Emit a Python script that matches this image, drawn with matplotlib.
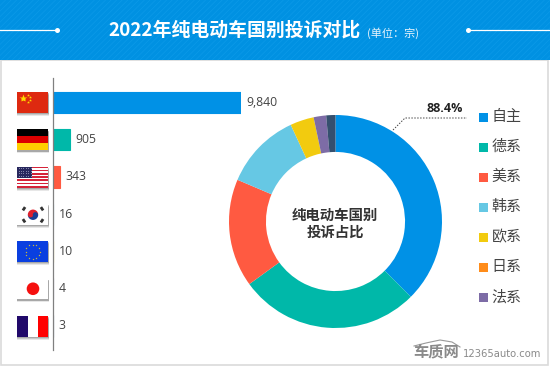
import numpy as np
import matplotlib
matplotlib.use("Agg")
import matplotlib.pyplot as plt
from matplotlib.patches import Rectangle, Circle, Wedge

plt.rcParams['font.family'] = ['Noto Sans CJK SC', 'DejaVu Sans']
plt.rcParams['hatch.linewidth'] = 0.5

# bar data
countries = ['中国', '德国', '美国', '韩国', '欧盟', '日本', '法国']
complaints = [9840, 905, 343, 16, 10, 4, 3]
complaint_labels = ['9,840', '905', '343', '16', '10', '4', '3']
bar_colors = ['#0091E6', '#00B8A9', '#FF5A41', '#66C8E4', '#F2CB0F', '#7D6CA6', '#35506E']

# donut data (shares as drawn, they do not follow the bars)
share_names = ['自主', '德系', '美系', '韩系', '欧系', '法系', '其他']
shares = [37.5, 27.5, 16.4, 11.7, 3.6, 1.9, 1.4]
share_colors = ['#0091E6', '#00B8A9', '#FF5A41', '#66C8E4', '#F2CB0F', '#7D6CA6', '#35506E']

# legend
legend_names = ['自主', '德系', '美系', '韩系', '欧系', '日系', '法系']
legend_colors = ['#0091E6', '#00B8A9', '#FF5A41', '#66C8E4', '#F2CB0F', '#FF8C1A', '#7D6CA6']

W, H = 550, 368
fig = plt.figure(figsize=(W / 100, H / 100), dpi=100, facecolor='white')


def px_axes(x0, y0, x1, y1, **kw):
    # axes placed with pixel coordinates, y going down
    return fig.add_axes([x0 / W, 1 - y1 / H, (x1 - x0) / W, (y1 - y0) / H], **kw)


# background layer in pixels
bg = px_axes(0, 0, W, H)
bg.set_xlim(0, W)
bg.set_ylim(H, 0)
bg.axis('off')

bg.add_patch(Rectangle((0.5, 60), 547, 305, fc='white', ec='#DADADA', lw=1.2))
bg.add_patch(Rectangle((0, 0), W, 60, fc='#0091E2', ec='#0C9AE8', lw=0, hatch='//////'))

# header
bg.plot([0, 57], [30, 30], color='white', lw=0.9)
bg.plot([468, 550], [30, 30], color='white', lw=0.9)
bg.plot([57, 468], [30, 30], ls='none', marker='o', ms=3.6, color='white', mec='none')
bg.text(108, 30, '2022年纯电动车国别投诉对比', color='white', fontsize=13.6, fontweight='bold',
        ha='left', va='center')
bg.text(367, 33, '(单位：宗)', color='#E8F4FC', fontsize=8, ha='left', va='center')

# bars
bar_top, bar_step = 102.5, 37.25
ax = px_axes(53, 78, 241, 350)
ax.patch.set_alpha(0)
ypos = np.arange(len(complaints))
ax.barh(ypos, complaints, height=0.564, color=bar_colors, edgecolor=bar_colors, lw=0.8)
ax.set_xlim(0, max(complaints))
ax.set_ylim((350 - bar_top) / bar_step, (78 - bar_top) / bar_step)
ax.set_xticks([])
ax.set_yticks([])
for side in ['top', 'right', 'bottom']:
    ax.spines[side].set_visible(False)
ax.spines['left'].set_color('#808080')
ax.spines['left'].set_linewidth(0.9)
for y, v, lab in zip(ypos, complaints, complaint_labels):
    ax.annotate(lab, (v, y), xytext=(4, 0), textcoords='offset points', va='center', ha='left',
                fontsize=8.8, color='#444444', family='Open Sans', annotation_clip=False)


# flags
def flag_base(yc, color='white'):
    x, y, w, h = 17, yc - 10.5, 31, 21
    for d, a in [(3.0, 0.14), (2.2, 0.2), (1.4, 0.28)]:
        bg.add_patch(Rectangle((x - 0.5, y + d), w + 1, h, fc='#555555', ec='none', alpha=a))
    bg.add_patch(Rectangle((x, y), w, h, fc=color, ec='none'))
    return x, y, w, h


def flag_china(yc):
    x, y, w, h = flag_base(yc, '#DE2910')
    bg.plot(x + 6, y + 5.5, marker='*', ms=6, color='#FFDE00', mec='none')
    for dx, dy in [(11, 2.5), (13, 4.5), (13, 7.5), (11, 9.5)]:
        bg.plot(x + dx, y + dy, marker='*', ms=2.2, color='#FFDE00', mec='none')


def flag_germany(yc):
    x, y, w, h = flag_base(yc, '#000000')
    bg.add_patch(Rectangle((x, y + 7), w, 7, fc='#DD0000', ec='none'))
    bg.add_patch(Rectangle((x, y + 14), w, 7, fc='#FFCE00', ec='none'))


def flag_usa(yc):
    x, y, w, h = flag_base(yc, 'white')
    for i in range(0, 13, 2):
        bg.add_patch(Rectangle((x, y + i * h / 13), w, h / 13, fc='#D5233A', ec='none'))
    bg.add_patch(Rectangle((x, y), 15, 11.3, fc='#28285E', ec='none'))
    for i in range(6):
        for j in range(4):
            bg.plot(x + 1.5 + i * 2.4, y + 1.5 + j * 2.7, marker='.', ms=1.3, color='#B9B9D6', mec='none')


def flag_korea(yc):
    x, y, w, h = flag_base(yc, 'white')
    cx, cy = x + 16, y + 11
    bg.add_patch(Wedge((cx, cy), 5.2, 180, 360, fc='#E0202C', ec='none'))
    bg.add_patch(Wedge((cx, cy), 5.2, 0, 180, fc='#1A3F94', ec='none'))
    bg.add_patch(Circle((cx - 2.4, cy), 2.6, fc='#E0202C', ec='none'))
    bg.add_patch(Circle((cx + 2.4, cy), 2.6, fc='#1A3F94', ec='none'))
    for dx, dy in [(-9, -6), (9, -6), (-9, 6), (9, 6)]:
        ang = np.degrees(np.arctan2(dy, dx)) + 90
        bg.plot([cx + dx - 2 * np.cos(np.radians(ang)), cx + dx + 2 * np.cos(np.radians(ang))],
                [cy + dy - 2 * np.sin(np.radians(ang)), cy + dy + 2 * np.sin(np.radians(ang))],
                color='#333333', lw=2.0, solid_capstyle='butt')


def flag_eu(yc):
    x, y, w, h = flag_base(yc, '#0A3FE0')
    cx, cy = x + 15.5, y + 10.5
    for a in np.arange(0, 360, 30):
        bg.plot(cx + 7 * np.cos(np.radians(a)), cy + 7 * np.sin(np.radians(a)), marker='.', ms=2,
                color='#C9B93A', mec='none')


def flag_japan(yc):
    x, y, w, h = flag_base(yc, 'white')
    bg.add_patch(Circle((x + 16, y + 10.5), 6.3, fc='#F5100F', ec='none'))


def flag_france(yc):
    x, y, w, h = flag_base(yc, 'white')
    bg.add_patch(Rectangle((x, y), 11, h, fc='#21096A', ec='none'))
    bg.add_patch(Rectangle((x + 21, y), 10, h, fc='#FF0000', ec='none'))


flags = [flag_china, flag_germany, flag_usa, flag_korea, flag_eu, flag_japan, flag_france]
for i, draw in enumerate(flags):
    draw(bar_top + i * bar_step)

# donut
ax2 = px_axes(229, 115, 442, 328)
ax2.pie(shares, colors=share_colors, startangle=90, counterclock=False, radius=1,
        wedgeprops=dict(width=0.347, linewidth=0))
ax2.set_xlim(-1, 1)
ax2.set_ylim(-1, 1)

bg.text(335, 216, '纯电动车国别', color='#333333', fontsize=10.4, fontweight='bold', ha='center', va='center')
bg.text(335, 233, '投诉占比', color='#333333', fontsize=10.4, fontweight='bold', ha='center', va='center')

# leader line
bg.plot([393, 405, 467], [130, 118, 118], color='#444444', lw=0.7, ls=(0, (1.5, 1.5)))
bg.text(445, 108, '88.4%', color='#222222', fontsize=9, fontweight='bold', family='Open Sans',
        ha='center', va='center')

# legend
for i, (name, col) in enumerate(zip(legend_names, legend_colors)):
    y = 117 + i * 30
    bg.add_patch(Rectangle((479, y - 4.5), 9, 9, fc=col, ec='none'))
    bg.text(491.5, y, name, color='#444444', fontsize=10.8, ha='left', va='center')

# watermark
bg.text(436, 351, '车质网', color='#8A8A8A', fontsize=11, fontweight='bold', ha='center', va='center')
t = np.array([414, 426, 440, 452, 460])
bg.plot(t, [346, 343, 340, 342, 347], color='#999999', lw=0.8)
bg.text(463, 354, '12365auto.com', color='#8A8A8A', fontsize=7.2,
        family='DejaVu Sans', ha='left', va='center')

fig.savefig('out.png', dpi=100)
